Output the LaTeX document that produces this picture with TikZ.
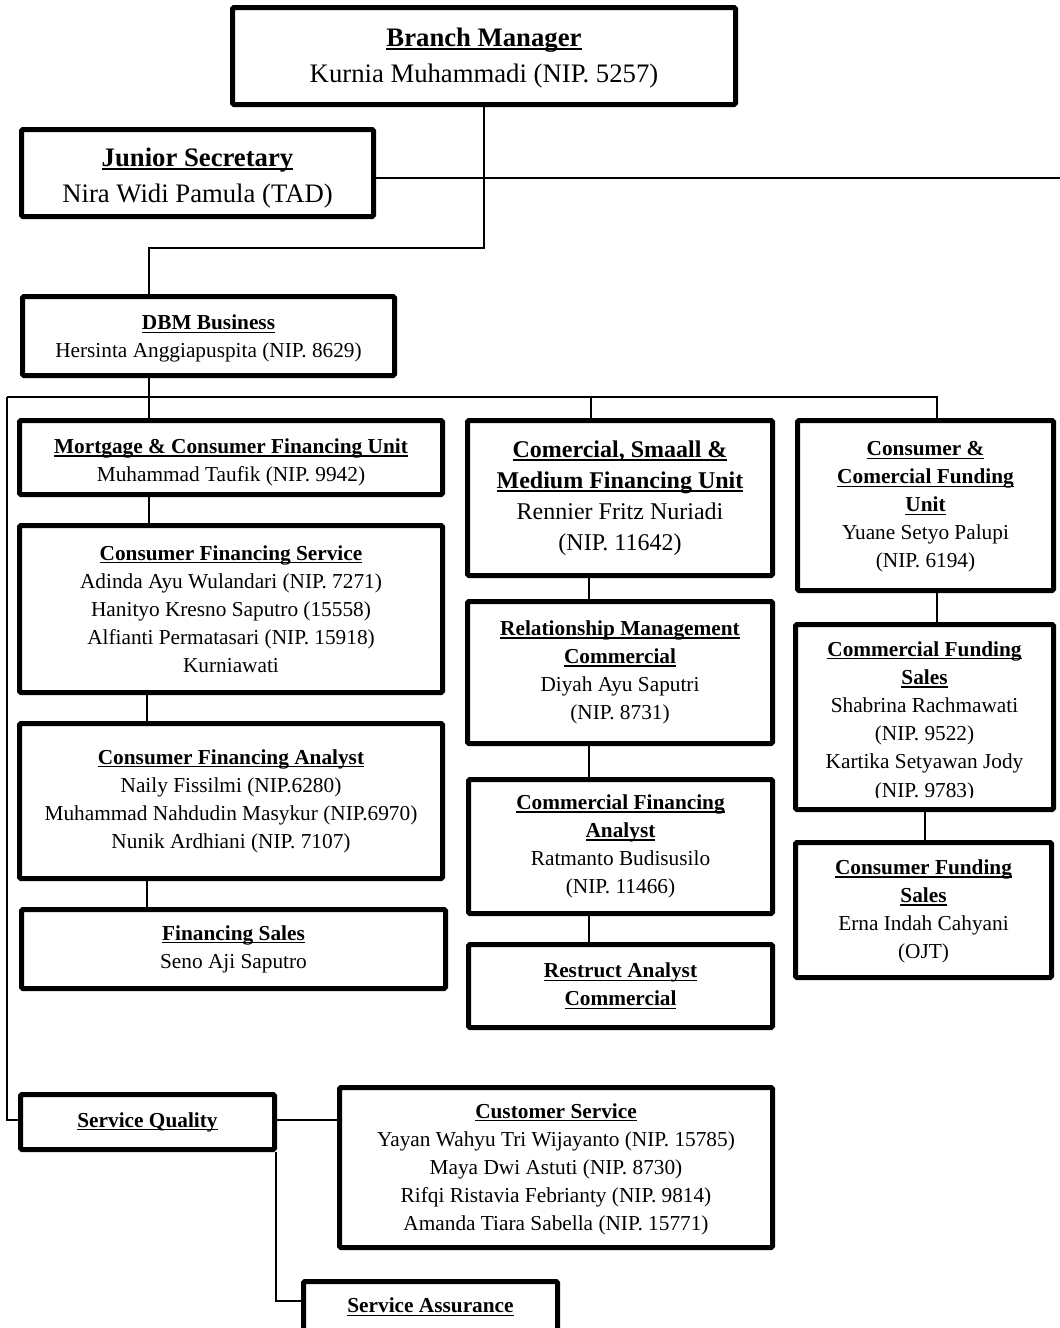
\documentclass[tikz,border=0pt]{standalone}
\usepackage{fontspec}
\setmainfont{Liberation Serif}
\newcommand\ulb[1]{\setbox0=\hbox{\bfseries #1}\rlap{\rule[-0.15em]{\wd0}{0.07em}}\box0}
\newcommand\lift[1]{\rule{0pt}{#1}}
\begin{document}
\frenchspacing
\begin{tikzpicture}[x=1pt,y=-1pt,
 box/.style={draw, line width=5pt, rounded corners=1.5pt, inner sep=0pt, align=center, font=\fontsize{21.3}{28}\selectfont},
 txt/.style={inner sep=0pt, align=center, font=\fontsize{21.3}{28.2}\selectfont},
 big/.style={font=\fontsize{26.7}{36}\selectfont},
 mid/.style={font=\fontsize{24}{31}\selectfont},
 conn/.style={line width=1.4pt}]
\useasboundingbox (0,0) rectangle (1060,1328);

% boxes
\node[box,big,minimum width=503pt,minimum height=97pt] (bm) at (484,56) {\lift{22pt}\ulb{Branch Manager}\\Kurnia Muhammadi (NIP. 5257)};
\node[box,big,minimum width=352pt,minimum height=87pt] (js) at (197.5,173) {\lift{28pt}\ulb{Junior Secretary}\\Nira Widi Pamula (TAD)};
\node[box,minimum width=372pt,minimum height=79pt] (dbm) at (208.5,336) {\lift{20.5pt}\ulb{DBM Business}\\Hersinta Anggiapuspita (NIP. 8629)};

\node[box,minimum width=423pt,minimum height=74pt] (mcf) at (231,457.5) {\lift{24.5pt}\ulb{Mortgage \& Consumer Financing Unit}\\Muhammad Taufik (NIP. 9942)};
\node[box,minimum width=423pt,minimum height=167pt] (cfs) at (231,609) {\ulb{Consumer Financing Service}\\Adinda Ayu Wulandari (NIP. 7271)\\Hanityo Kresno Saputro (15558)\\Alfianti Permatasari (NIP. 15918)\\Kurniawati};
\node[box,minimum width=423pt,minimum height=155pt] (cfa) at (231,801) {\ulb{Consumer Financing Analyst}\\Naily Fissilmi (NIP.6280)\\Muhammad Nahdudin Masykur (NIP.6970)\\Nunik Ardhiani (NIP. 7107)};
\node[box,minimum width=424pt,minimum height=79pt] (fs) at (233.5,949) {\ulb{Financing Sales}\\Seno Aji Saputro};

\node[box,mid,minimum width=305pt,minimum height=155pt] (csm) at (620,498) {\ulb{Comercial, Smaall \&}\\\ulb{Medium Financing Unit}\\Rennier Fritz Nuriadi\\(NIP. 11642)};
\node[box,minimum width=305pt,minimum height=142pt] (rm) at (620,672.5) {\ulb{Relationship Management}\\\ulb{Commercial}\\Diyah Ayu Saputri\\(NIP. 8731)};
\node[box,minimum width=304pt,minimum height=134pt] (cfa2) at (620.5,846.5) {\ulb{Commercial Financing}\\\ulb{Analyst}\\Ratmanto Budisusilo\\(NIP. 11466)};
\node[box,minimum width=304pt,minimum height=83pt] (ra) at (620.5,986) {\ulb{Restruct Analyst}\\\ulb{Commercial}};

\node[box,minimum width=256pt,minimum height=170pt] (ccfu) at (925.5,505.5) {\lift{17.5pt}\ulb{Consumer \&}\\\ulb{Comercial Funding}\\\ulb{Unit}\\Yuane Setyo Palupi\\(NIP. 6194)};
\node[box,minimum width=258pt,minimum height=185pt] (cfsales) at (924.5,717) {};
\begin{scope}
\clip (793,622) rectangle (1056,797.5);
\node[txt] (cfsalestext) at (924.5,721.5) {\ulb{Commercial Funding}\\\ulb{Sales}\\Shabrina Rachmawati\\(NIP. 9522)\\Kartika Setyawan Jody\\(NIP. 9783)};
\end{scope}
\node[box,minimum width=256pt,minimum height=135pt] (cfs2) at (923.5,910) {\lift{18pt}\ulb{Consumer Funding}\\\ulb{Sales}\\Erna Indah Cahyani\\(OJT)};

\node[box,minimum width=254pt,minimum height=55pt] (sq) at (147.5,1122) {\ulb{Service Quality}};
\node[box,minimum width=433pt,minimum height=160pt] (cs) at (556,1167.5) {\lift{18pt}\ulb{Customer Service}\\Yayan Wahyu Tri Wijayanto (NIP. 15785)\\Maya Dwi Astuti (NIP. 8730)\\Rifqi Ristavia Febrianty (NIP. 9814)\\Amanda Tiara Sabella (NIP. 15771)};
\node[box,minimum width=254pt,minimum height=51pt] (sa) at (430.5,1307) {\ulb{Service Assurance}};

% helper coordinates
\coordinate (j1) at (149,248);
\coordinate (jsend) at (1060,178);
\coordinate (busL) at (7,397);
\coordinate (colA) at (149,397);
\coordinate (colB) at (591,397);
\coordinate (busR) at (937,397);
\coordinate (colA2) at (147,0);
\coordinate (colB2) at (589,0);
\coordinate (colC2) at (925,0);
\coordinate (sqbend) at (7,1120);
\coordinate (sabend) at (276,1301);

% connectors
\draw[conn] (bm.south) |- (j1) -- (j1 |- dbm.north);
\draw[conn] (js.east |- jsend) -- (jsend);
\draw[conn] (colA |- dbm.south) -- (colA);
\draw[conn] (busL) -- (busR) -- (busR |- ccfu.north);
\draw[conn] (colA) -- (colA |- mcf.north);
\draw[conn] (colB) -- (colB |- csm.north);
\draw[conn] (busL) -- (sqbend) -- (sqbend -| sq.west);
\draw[conn] (colA |- mcf.south) -- (colA |- cfs.north);
\draw[conn] (colA2 |- cfs.south) -- (colA2 |- cfa.north);
\draw[conn] (colA2 |- cfa.south) -- (colA2 |- fs.north);
\draw[conn] (colB2 |- csm.south) -- (colB2 |- rm.north);
\draw[conn] (colB2 |- rm.south) -- (colB2 |- cfa2.north);
\draw[conn] (colB2 |- cfa2.south) -- (colB2 |- ra.north);
\draw[conn] (busR |- ccfu.south) -- (busR |- cfsales.north);
\draw[conn] (colC2 |- cfsales.south) -- (colC2 |- cfs2.north);
\draw[conn] (sqbend -| sq.east) -- (sqbend -| cs.west);
\draw[conn] (sabend |- sq.south) -- (sabend) -- (sabend -| sa.west);
\end{tikzpicture}
\end{document}
